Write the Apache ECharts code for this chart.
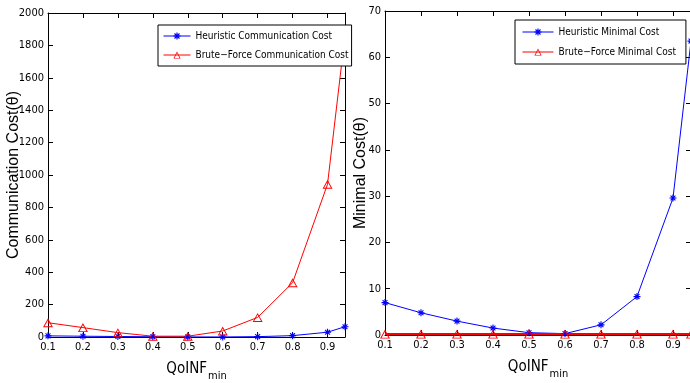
<!DOCTYPE html>
<html>
<head>
<meta charset="utf-8">
<script src="https://cdn.jsdelivr.net/npm/echarts@6/dist/echarts.min.js"></script>
<style>
  html, body { margin: 0; padding: 0; background: #fff; }
  #main { width: 690px; height: 383px; }
</style>
</head>
<body>
<div id="main"></div>
<script>
// QoINF_min values on the x axis
var qoinf = [0.1, 0.2, 0.3, 0.4, 0.5, 0.6, 0.7, 0.8, 0.9, 0.95];

// left panel: communication cost
var heuristicComm = [7, 4.8, 3, 1.5, 0.5, 0.3, 2.2, 8.3, 29.6, 63.5];
var bruteComm = [88, 58, 27, 5, 5, 37, 121, 335, 943, 1864];

// right panel: minimal cost
var heuristicMin = [7, 4.8, 3, 1.5, 0.5, 0.3, 2.2, 8.3, 29.6, 63.5];
var bruteMin = [0.2, 0.2, 0.2, 0.2, 0.2, 0.2, 0.2, 0.2, 0.2, 0.2];

var leftLegend = ['Heuristic Communication Cost', 'Brute\u2212Force Communication Cost'];
var rightLegend = ['Heuristic Minimal Cost', 'Brute\u2212Force Minimal Cost'];

function pairs(xs, ys) {
  return xs.map(function (x, i) { return [x, ys[i]]; });
}

// matlab style markers: '*' and a thin hollow triangle
var star = 'path://M0,4.2H10V5.8H0Z M4.2,0H5.8V10H4.2Z M1,2.1L2.1,1L9,7.9L7.9,9Z M7.9,1L9,2.1L2.1,9L1,7.9Z';
var triangle = 'path://M5,0L10,9L0,9Z M5,1.9L1.6,8.1L8.4,8.1Z';

var narrow = "'Liberation Sans Narrow', 'DejaVu Sans Condensed', 'Liberation Sans', Arial, sans-serif";
var sans = "'Liberation Sans', Arial, sans-serif";

function xAxes(grid) {
  return [
    {
      gridIndex: grid, type: 'value', min: 0.1, max: 0.95, interval: 0.1,
      name: '{a|QoINF}{b|min}', nameLocation: 'middle', nameGap: 20,
      nameTextStyle: {
        rich: {
          a: { fontFamily: narrow, fontSize: 15, color: '#000' },
          b: { fontFamily: narrow, fontSize: 11, color: '#000', padding: [14, 0, 0, 1] }
        }
      },
      axisLine: { onZero: false, lineStyle: { color: '#000', width: 1 } },
      axisTick: { inside: true, length: 5, lineStyle: { color: '#000' } },
      axisLabel: { color: '#000', fontFamily: narrow, fontSize: 11, margin: 5, showMaxLabel: false },
      splitLine: { show: false }
    },
    {
      gridIndex: grid, type: 'value', position: 'top', min: 0.1, max: 0.95, interval: 0.1,
      axisLine: { onZero: false, lineStyle: { color: '#000', width: 1 } },
      axisTick: { inside: true, length: 5, lineStyle: { color: '#000' } },
      axisLabel: { show: false },
      splitLine: { show: false }
    }
  ];
}

function yAxes(grid, max, interval, name, gap) {
  return [
    {
      gridIndex: grid, type: 'value', min: 0, max: max, interval: interval,
      name: name, nameLocation: 'middle', nameGap: gap, nameMoveOverlap: false,
      nameTextStyle: { fontFamily: sans, fontSize: 16, color: '#000' },
      axisLine: { show: true, onZero: false, lineStyle: { color: '#000', width: 1 } },
      axisTick: { show: true, inside: true, length: 5, lineStyle: { color: '#000' } },
      axisLabel: {
        color: '#000', fontFamily: narrow, fontSize: 11, margin: 4,
        formatter: function (v) { return String(v); }
      },
      splitLine: { show: false }
    },
    {
      gridIndex: grid, type: 'value', position: 'right', min: 0, max: max, interval: interval,
      axisLine: { show: true, onZero: false, lineStyle: { color: '#000', width: 1 } },
      axisTick: { show: true, inside: true, length: 5, lineStyle: { color: '#000' } },
      axisLabel: { show: false },
      splitLine: { show: false }
    }
  ];
}

var legendBase = {
  orient: 'vertical',
  backgroundColor: '#fff',
  borderColor: '#000',
  borderWidth: 1,
  itemHeight: 9,
  lineStyle: { width: 1 },
  textStyle: { fontFamily: narrow, fontSize: 10, color: '#000' }
};

var option = {
  animation: false,
  backgroundColor: '#fff',
  grid: [
    { left: 48, top: 13, width: 297, height: 324, outerBoundsMode: 'none', containLabel: false },
    { left: 385, top: 11, width: 306, height: 324, outerBoundsMode: 'none', containLabel: false }
  ],
  legend: [
    Object.assign({}, legendBase, {
      data: leftLegend, left: 158, top: 25,
      padding: [6, 3, 6, 5], itemGap: 9, itemWidth: 27
    }),
    Object.assign({}, legendBase, {
      data: rightLegend, left: 515, top: 20,
      padding: [7, 10, 7, 7], itemGap: 10, itemWidth: 31
    })
  ],
  xAxis: xAxes(0).concat(xAxes(1)),
  yAxis: yAxes(0, 2000, 200, 'Communication Cost(\u03b8)', 26)
    .concat(yAxes(1, 70, 10, 'Minimal Cost(\u03b8)', 16)),
  series: [
    {
      name: leftLegend[0], type: 'line', xAxisIndex: 0, yAxisIndex: 0,
      data: pairs(qoinf, heuristicComm), symbol: star, symbolSize: 7,
      itemStyle: { color: '#0000ff' }, lineStyle: { color: '#0000ff', width: 1 }
    },
    {
      name: leftLegend[1], type: 'line', xAxisIndex: 0, yAxisIndex: 0,
      data: pairs(qoinf, bruteComm), symbol: triangle, symbolSize: [10, 9],
      itemStyle: { color: '#ff0000', borderWidth: 0 },
      lineStyle: { color: '#ff0000', width: 1 }
    },
    {
      name: rightLegend[0], type: 'line', xAxisIndex: 2, yAxisIndex: 2,
      data: pairs(qoinf, heuristicMin), symbol: star, symbolSize: 7,
      itemStyle: { color: '#0000ff' }, lineStyle: { color: '#0000ff', width: 1 }
    },
    {
      name: rightLegend[1], type: 'line', xAxisIndex: 2, yAxisIndex: 2,
      data: pairs(qoinf, bruteMin), symbol: triangle, symbolSize: [10, 9],
      itemStyle: { color: '#ff0000', borderWidth: 0 },
      lineStyle: { color: '#ff0000', width: 2 }
    }
  ]
};

var chart = echarts.init(document.getElementById('main'));
chart.setOption(option);
</script>
</body>
</html>
